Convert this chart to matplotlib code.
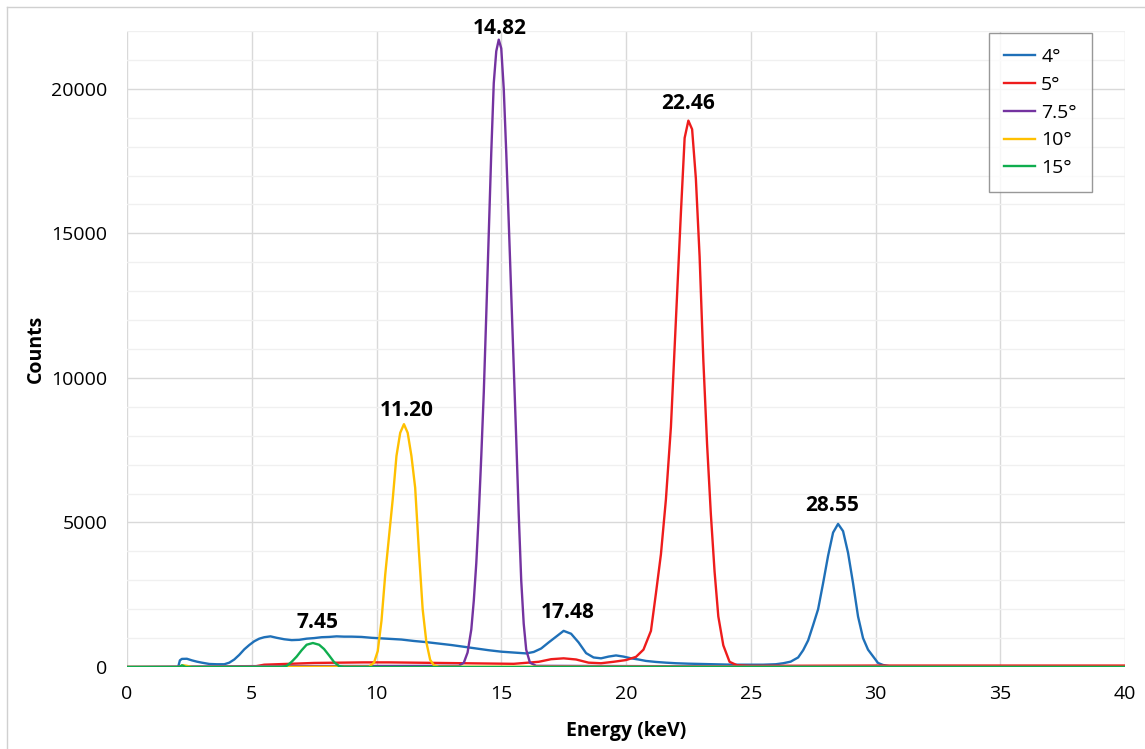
import matplotlib.pyplot as plt
from matplotlib.lines import Line2D
from matplotlib.ticker import MultipleLocator

plt.rcParams['font.family'] = ['Open Sans', 'DejaVu Sans']

# energy (keV) / counts
e_4 = [0, 2.05, 2.12, 2.2, 2.4, 2.6, 2.8, 3.0, 3.3, 3.6, 3.9, 4.1, 4.3, 4.5, 4.7, 4.9,
       5.1, 5.3, 5.5, 5.75, 6.0, 6.3, 6.6, 6.9, 7.2, 7.5, 7.8, 8.1, 8.4, 8.7, 9.0, 9.4,
       9.8, 10.2, 10.6, 11.0, 11.5, 12.0, 12.5, 13.0, 13.5, 14.0, 14.5, 15.0, 15.5, 16.0,
       16.3, 16.6, 16.9, 17.2, 17.5, 17.8, 18.1, 18.4, 18.7, 19.0, 19.3, 19.6, 19.9, 20.2,
       20.5, 20.8, 21.2, 21.6, 22.0, 22.5, 23.0, 23.5, 24.0, 24.5, 25.0, 25.5, 26.0, 26.3,
       26.6, 26.9, 27.1, 27.3, 27.5, 27.7, 27.9, 28.1, 28.3, 28.5, 28.7, 28.9, 29.1, 29.3,
       29.5, 29.7, 29.9, 30.1, 30.3, 30.6, 31, 35, 40]
c_4 = [0, 0, 230, 280, 285, 230, 185, 150, 105, 95, 95, 150, 260, 420, 610, 760,
       890, 980, 1030, 1060, 1010, 960, 930, 940, 980, 1000, 1030, 1040, 1060, 1050, 1050, 1040,
       1010, 990, 970, 950, 900, 860, 810, 760, 700, 640, 580, 530, 500, 470,
       520, 640, 850, 1050, 1250, 1150, 850, 480, 330, 300, 360, 400, 360, 300,
       260, 210, 175, 150, 130, 115, 105, 95, 85, 80, 80, 80, 95, 130,
       185, 330, 580, 920, 1450, 2000, 2900, 3850, 4650, 4950, 4700, 3950, 2900, 1750,
       1000, 600, 370, 140, 70, 20, 10, 10, 10]

e_5 = [0, 5.0, 5.5, 6.5, 7.5, 8.5, 9.5, 10.5, 11.5, 12.5, 13.5, 14.5, 15.5, 16.5, 17.0,
       17.5, 18.0, 18.5, 19.0, 19.5, 20.0, 20.4, 20.7, 21.0, 21.2, 21.4, 21.6, 21.8, 22.0,
       22.2, 22.35, 22.5, 22.65, 22.8, 22.95, 23.1, 23.25, 23.4, 23.55, 23.7, 23.9, 24.15,
       24.45, 25, 30, 40]
c_5 = [0, 0, 80, 110, 140, 150, 160, 160, 150, 140, 130, 120, 110, 180, 270,
       300, 260, 150, 130, 180, 240, 350, 600, 1250, 2550, 3900, 5800, 8300, 12000,
       15700, 18300, 18900, 18600, 16900, 14200, 10600, 7700, 5300, 3300, 1750, 750, 180,
       60, 40, 50, 50]

e_75 = [0, 5, 13.3, 13.5, 13.65, 13.8, 13.9, 14.0, 14.1, 14.2, 14.3, 14.4, 14.5, 14.6,
        14.7, 14.8, 14.9, 15.0, 15.1, 15.2, 15.3, 15.4, 15.5, 15.6, 15.7, 15.8, 15.9,
        16.0, 16.15, 16.4, 25, 40]
c_75 = [0, 30, 40, 150, 500, 1300, 2300, 3600, 5300, 7300, 9500, 12200, 15000, 17800,
        20200, 21300, 21700, 21400, 20000, 17800, 15400, 12900, 10400, 7900, 5300, 3000, 1500,
        600, 150, 40, 20, 0]

e_10 = [0, 2.1, 2.25, 2.4, 2.6, 9.7, 9.9, 10.05, 10.2, 10.35, 10.5, 10.65, 10.8, 10.95,
        11.1, 11.25, 11.4, 11.55, 11.7, 11.85, 12.0, 12.15, 12.3, 12.5, 40]
c_10 = [0, 0, 60, 40, 0, 10, 150, 550, 1600, 3200, 4500, 5800, 7300, 8100,
        8400, 8100, 7300, 6200, 4000, 2000, 850, 250, 60, 10, 0]

e_15 = [0, 2.1, 2.2, 2.35, 6.2, 6.4, 6.6, 6.8, 7.0, 7.2, 7.45, 7.7, 7.9, 8.1, 8.3, 8.5, 8.7, 40]
c_15 = [0, 0, 60, 0, 0, 40, 180, 360, 580, 770, 830, 770, 620, 400, 170, 30, 0, 0]

labels = ['4°', '5°', '7.5°', '10°', '15°']
colors = ['#1f70b8', '#ee1c1c', '#7433a0', '#ffc000', '#0fad4e']

peak_text = ['14.82', '22.46', '11.20', '17.48', '28.55', '7.45']
peak_x = [14.95, 22.48, 11.22, 17.68, 28.26, 7.62]
peak_y = [22100, 19500, 8870, 1900, 5600, 1550]

fig = plt.figure(figsize=(11.45, 7.49), dpi=100)
ax = fig.add_axes([127/1145, 1-667/749, 998/1145, 636/749])

series = [(e_4, c_4), (e_5, c_5), (e_75, c_75), (e_10, c_10), (e_15, c_15)]
for (e, c), lab, col in zip(series, labels, colors):
    ax.plot(e, c, color=col, lw=1.7, label=lab, solid_joinstyle='round')

for t, x, y in zip(peak_text, peak_x, peak_y):
    ax.text(x, y, t, ha='center', va='center', fontsize=15, fontweight='bold', clip_on=False)

ax.set_xlim(0, 40)
ax.set_ylim(0, 22000)
ax.xaxis.set_major_locator(MultipleLocator(5))
ax.yaxis.set_major_locator(MultipleLocator(5000))
ax.yaxis.set_minor_locator(MultipleLocator(1000))
ax.grid(True, which='major', color='#d9d9d9', lw=1)
ax.grid(True, which='minor', axis='y', color='#f0f0f0', lw=1)
ax.set_axisbelow(True)
for s in ax.spines.values():
    s.set_visible(False)
ax.tick_params(which='both', length=0, labelsize=14)
ax.tick_params(axis='x', pad=13)
ax.tick_params(axis='y', pad=14)

ax.set_xlabel('Energy (keV)', fontsize=14, fontweight='bold', labelpad=13)
ax.set_ylabel('Counts', fontsize=14, fontweight='bold', labelpad=4)

leg = ax.legend(loc='upper right', bbox_to_anchor=(1092/1145, 1-33/749),
                bbox_transform=fig.transFigure, fontsize=14, frameon=True, fancybox=False,
                handlelength=1.6, handletextpad=0.3, labelspacing=0.5, borderpad=0.78,
                borderaxespad=0)
leg.get_frame().set_edgecolor('#7f7f7f')
leg.get_frame().set_linewidth(1)

# outer chart frame
fig.add_artist(Line2D([7/1145, 1], [1-7/749, 1-7/749], transform=fig.transFigure, color='#d0d0d0', lw=1))
fig.add_artist(Line2D([7/1145, 7/1145], [0, 1-7/749], transform=fig.transFigure, color='#d0d0d0', lw=1))

fig.savefig('out.png', dpi=100)
